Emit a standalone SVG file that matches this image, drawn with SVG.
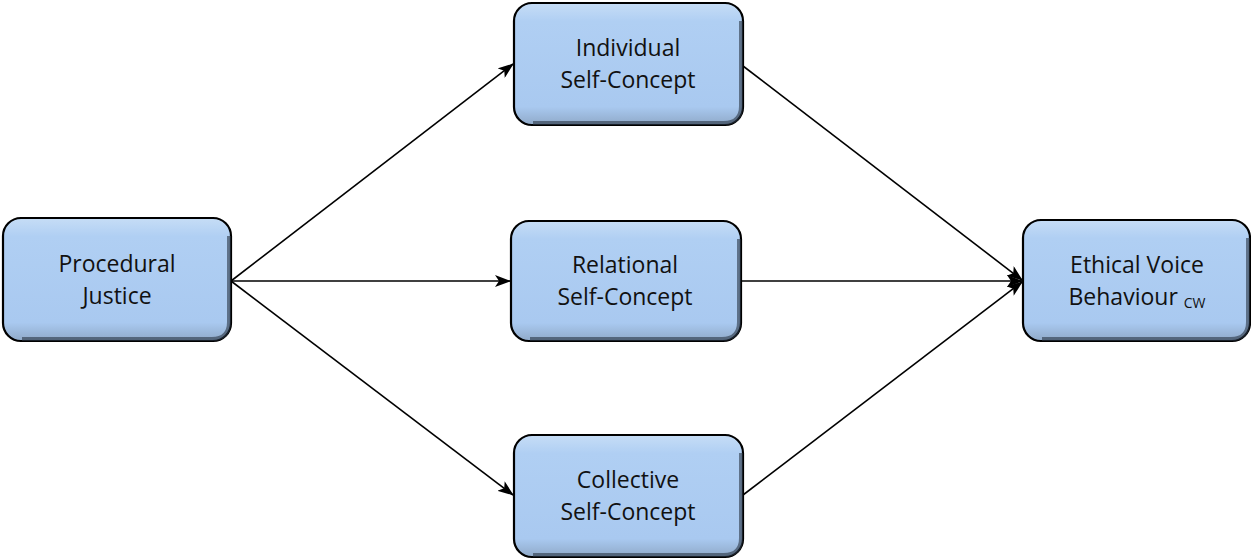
<svg xmlns="http://www.w3.org/2000/svg" width="1251" height="560" viewBox="0 0 1251 560">
<style>
.box{fill:url(#g);stroke:#000;stroke-width:2.2}
.sh{fill:none;stroke:#2a3644;stroke-width:4;opacity:0.6}
.t{font-family:"Open Sans","Liberation Sans",sans-serif;font-size:23px;fill:#111;text-anchor:middle}
.sub{font-size:14px}
.c{stroke:#000;stroke-width:1.6;fill:none;marker-end:url(#a)}
</style>
<defs>
<linearGradient id="g" x1="0" y1="0" x2="0" y2="1">
<stop offset="0" stop-color="#c6ddf6"/>
<stop offset="0.15" stop-color="#b0cff3"/>
<stop offset="0.85" stop-color="#a9c9f0"/>
<stop offset="1" stop-color="#8fa9c8"/>
</linearGradient>
<marker id="a" viewBox="0 0 16 12" refX="15" refY="6" markerWidth="16" markerHeight="12" markerUnits="userSpaceOnUse" orient="auto">
<path d="M0,0 L16,6 L0,12 L4,6 Z" fill="#000"/>
</marker>
</defs>
<g id="connectors">
<line class="c" x1="231" y1="281" x2="513" y2="64"/>
<line class="c" x1="231" y1="281" x2="510" y2="281"/>
<line class="c" x1="231" y1="281" x2="513" y2="495"/>
<line class="c" x1="743" y1="66" x2="1022" y2="280"/>
<line class="c" x1="741" y1="281" x2="1022" y2="281"/>
<line class="c" x1="743" y1="495" x2="1022" y2="282"/>
</g>
<g id="procedural">
<rect class="box" x="3" y="218" width="228" height="123" rx="18"/>
<path class="sh" d="M229,236 V322 Q229,339 212,339 H22"/>
<text class="t" x="117" y="272">Procedural</text>
<text class="t" x="117" y="304">Justice</text>
</g>
<g id="individual">
<rect class="box" x="514" y="3" width="229" height="122" rx="18"/>
<path class="sh" d="M741,21 V106 Q741,123 724,123 H533"/>
<text class="t" x="628" y="56">Individual</text>
<text class="t" x="628" y="88">Self-Concept</text>
</g>
<g id="relational">
<rect class="box" x="511" y="221" width="230" height="120" rx="18"/>
<path class="sh" d="M739,239 V322 Q739,339 722,339 H530"/>
<text class="t" x="625" y="273">Relational</text>
<text class="t" x="625" y="305">Self-Concept</text>
</g>
<g id="collective">
<rect class="box" x="514" y="435" width="229" height="122" rx="18"/>
<path class="sh" d="M741,453 V538 Q741,555 724,555 H533"/>
<text class="t" x="628" y="488">Collective</text>
<text class="t" x="628" y="520">Self-Concept</text>
</g>
<g id="ethical">
<rect class="box" x="1023" y="220" width="227" height="121" rx="18"/>
<path class="sh" d="M1248,238 V322 Q1248,339 1231,339 H1042"/>
<text class="t" x="1137" y="273">Ethical Voice</text>
<text class="t" x="1137" y="305">Behaviour <tspan class="sub" dy="3">CW</tspan></text>
</g>
</svg>
